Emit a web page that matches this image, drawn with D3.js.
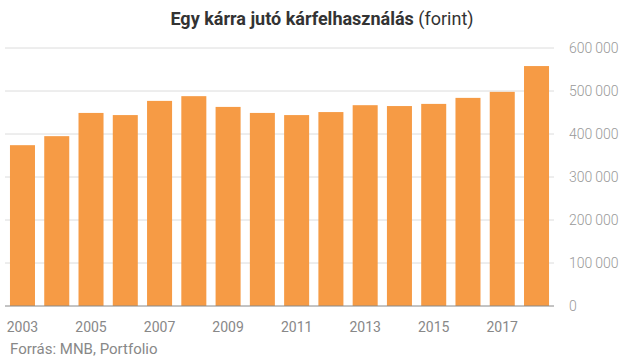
<!DOCTYPE html>
<html><head><meta charset="utf-8">
<script src="https://cdn.jsdelivr.net/npm/d3@7"></script>
<style>body{margin:0;background:#fff;} svg{display:block;font-family:Roboto, sans-serif;}</style>
</head><body>
<svg id="c" width="624" height="358"></svg>
<script>
const years = ["2003","2004","2005","2006","2007","2008","2009","2010","2011","2012","2013","2014","2015","2016","2017","2018"];
const values = [374000,395000,449000,444000,477000,488000,463000,449000,444000,451000,467000,465000,470000,484000,498000,558000];
const yTicks = [0,100000,200000,300000,400000,500000,600000];
const xTickLabels = ["2003","2005","2007","2009","2011","2013","2015","2017"];

const svg = d3.select("#c");
const x = d3.scaleBand().domain(years).range([5,554]).paddingInner(0.27).paddingOuter(0.145);
const y = d3.scaleLinear().domain([0,600000]).range([306,48]);
const fmt = v => d3.format(",")(v).replace(/,/g, "\u2009");

// gridlines
svg.append("g").selectAll("line").data(yTicks.filter(d=>d>0)).join("line")
  .attr("x1",5).attr("x2",554).attr("y1",d=>y(d)).attr("y2",d=>y(d))
  .attr("stroke","#dcdcdc").attr("stroke-width",1);

// bars
svg.append("g").selectAll("rect").data(years).join("rect")
  .attr("x",d=>x(d)).attr("width",x.bandwidth())
  .attr("y",(d,i)=>y(values[i])).attr("height",(d,i)=>y(0)-y(values[i]))
  .attr("fill","#F69B45");

// baseline
svg.append("line").attr("x1",5).attr("x2",554).attr("y1",y(0)).attr("y2",y(0))
  .attr("stroke","#888").attr("stroke-width",1);

// y labels
svg.append("g").selectAll("text").data(yTicks).join("text")
  .attr("x",569).attr("y",d=>y(d)).attr("dy","0.35em")
  .attr("font-size",14).attr("fill","#999").attr("font-weight",300)
  .text(d=>fmt(d));

// x labels
svg.append("g").selectAll("text").data(xTickLabels).join("text")
  .attr("x",d=>x(d)+x.bandwidth()/2).attr("y",327).attr("dy","0.35em")
  .attr("text-anchor","middle").attr("font-size",14).attr("fill","#888")
  .text(d=>d);

// title
const t = svg.append("text").attr("x",322).attr("y",25).attr("text-anchor","middle")
  .attr("font-size",18).attr("fill","#333");
t.append("tspan").attr("font-weight",700).text("Egy kárra jutó kárfelhasználás");
t.append("tspan").attr("font-weight",400).text(" (forint)");

// source
svg.append("text").attr("x",10).attr("y",349).attr("dy","0.35em")
  .attr("font-size",15).attr("fill","#888").text("Forrás: MNB, Portfolio");
</script>
</body></html>
